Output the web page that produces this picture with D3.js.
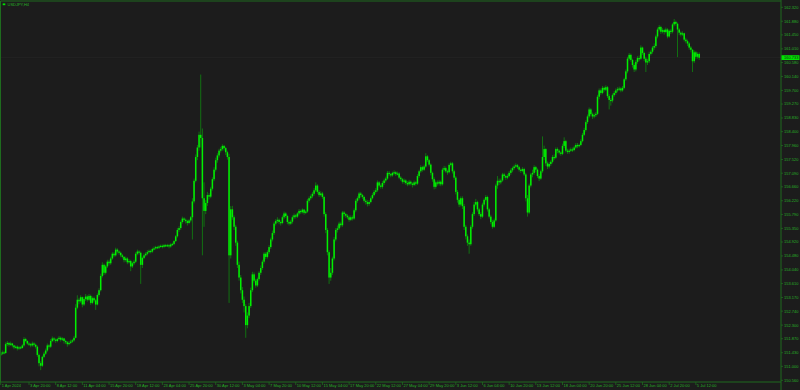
<!DOCTYPE html>
<html>
<head>
<meta charset="utf-8">
<script src="https://cdn.jsdelivr.net/npm/d3@7"></script>
<style>
  html, body { margin: 0; padding: 0; background: #1c1c1c; }
  svg { display: block; }
</style>
</head>
<body>
<div id="chart"></div>
<script>
// USDJPY H4, 1 Apr 2024 - 5 Jul 2024, one value per bar
const symbol = "USDJPY,H4";
const firstOpen = 151.35;
const closes = [
  151.40,151.44,151.42,151.70,151.74,151.68,151.72,151.66,151.60,151.62,
  151.56,151.60,151.58,151.66,151.86,151.80,151.72,151.70,151.66,151.72,
  151.68,151.62,151.36,151.10,151.02,151.30,151.40,151.50,151.66,151.62,
  151.80,151.88,151.84,151.80,151.86,151.90,151.84,151.88,151.80,151.76,
  151.70,151.74,151.78,151.82,151.90,152.85,153.10,153.05,153.18,152.95,
  153.12,153.20,153.10,153.22,153.00,153.15,153.08,152.95,153.25,153.40,
  153.85,154.20,153.95,154.15,154.30,154.25,154.40,154.55,154.50,154.68,
  154.62,154.58,154.50,154.45,154.35,154.40,154.28,154.32,154.15,154.25,
  154.30,154.55,154.62,154.58,154.20,154.42,154.50,154.55,154.60,154.64,
  154.62,154.70,154.72,154.76,154.74,154.78,154.80,154.77,154.82,154.80,
  154.82,154.78,154.84,154.86,154.95,155.10,155.30,155.36,155.55,155.66,
  155.62,155.58,155.52,155.60,155.70,156.20,156.85,157.60,157.90,158.30,
  158.20,156.30,155.90,156.15,156.40,156.35,156.60,156.90,157.20,157.50,
  157.65,157.80,157.85,157.95,157.88,157.75,157.60,154.50,155.95,155.70,
  155.40,154.90,154.20,153.80,153.40,153.10,152.90,152.30,152.60,152.90,
  153.40,153.90,153.70,153.55,153.75,153.95,154.10,154.30,154.55,154.45,
  154.60,154.76,155.00,155.20,155.50,155.58,155.62,155.55,155.52,155.70,
  155.82,155.74,155.55,155.50,155.56,155.70,155.76,155.72,155.82,155.90,
  155.86,155.94,155.84,155.88,156.22,156.30,156.36,156.44,156.55,156.70,
  156.50,156.40,156.45,156.34,155.80,155.30,154.60,153.80,153.95,154.40,
  155.00,155.30,155.35,155.50,155.45,155.85,155.80,155.75,155.70,155.62,
  155.70,155.66,155.92,156.22,156.30,156.45,156.40,156.34,156.22,156.18,
  156.12,156.18,156.30,156.40,156.50,156.55,156.80,156.70,156.66,156.78,
  156.86,156.92,157.10,157.06,157.02,157.10,157.12,157.06,157.08,156.95,
  156.90,156.82,156.86,156.78,156.74,156.82,156.76,156.72,156.80,156.76,
  157.00,157.15,157.28,157.20,157.30,157.62,157.50,157.36,157.10,156.90,
  156.66,156.80,156.76,156.82,156.74,157.20,157.25,157.15,157.12,157.35,
  157.40,157.15,156.95,156.50,156.25,156.10,156.30,156.05,155.40,155.10,
  154.90,154.85,155.40,155.80,156.10,156.18,155.95,155.80,155.72,156.10,
  156.25,156.34,155.95,155.72,155.55,155.40,155.60,156.70,156.85,156.80,
  156.86,157.05,157.00,156.95,157.00,157.10,157.18,157.25,157.30,157.34,
  157.28,157.20,157.16,157.22,157.05,156.30,155.85,156.70,157.05,157.10,
  157.28,157.20,157.00,156.92,157.15,157.60,157.85,157.40,157.30,157.38,
  157.45,157.60,157.58,157.85,157.80,157.74,157.70,157.95,158.10,157.80,
  157.76,157.80,157.84,157.82,157.90,157.98,157.94,157.98,158.10,158.30,
  158.45,158.70,158.88,159.10,158.95,158.88,158.92,158.96,159.50,159.70,
  159.62,159.78,159.72,159.80,159.52,159.40,159.38,159.55,159.62,159.70,
  159.74,159.76,159.70,159.78,160.05,160.30,160.70,160.82,160.66,160.50,
  160.36,160.60,160.72,160.70,161.05,160.88,160.70,160.58,160.62,160.85,
  160.92,161.05,161.10,161.40,161.62,161.70,161.55,161.60,161.54,161.62,
  161.40,161.58,161.55,161.78,161.86,161.80,161.62,161.52,161.46,161.50,
  161.30,161.25,161.18,161.05,160.98,160.62,160.90,160.76,160.85,160.73
];
const highs = [
  151.46,151.50,151.48,151.76,151.80,151.76,151.78,151.74,151.68,151.66,
  151.66,151.64,151.64,151.70,151.92,151.90,151.82,151.76,151.74,151.78,
  151.76,151.72,151.66,151.40,151.16,151.34,151.46,151.56,151.72,151.70,
  151.86,151.94,151.92,151.88,151.90,151.96,151.94,151.92,151.90,151.84,
  151.80,151.80,151.84,151.86,151.96,152.96,153.24,153.16,153.24,153.20,
  153.18,153.28,153.24,153.28,153.26,153.20,153.20,153.12,153.30,153.46,
  153.92,154.28,154.24,154.20,154.36,154.36,154.46,154.60,154.60,154.74,
  154.72,154.66,154.62,154.54,154.48,154.46,154.44,154.38,154.36,154.30,
  154.36,154.60,154.68,154.66,154.62,154.46,154.56,154.60,154.66,154.68,
  154.68,154.74,154.78,154.80,154.80,154.82,154.84,154.84,154.86,154.86,
  154.86,154.86,154.88,154.90,154.98,155.14,155.36,155.42,155.60,155.72,
  155.70,155.66,155.62,155.64,155.74,156.30,156.92,157.68,157.98,158.40,
  160.20,158.50,156.80,156.24,156.50,156.46,156.66,156.96,157.28,157.58,
  157.72,157.86,157.92,158.00,157.98,157.92,157.80,157.70,156.05,156.06,
  155.76,155.46,154.96,154.30,153.88,153.50,153.20,152.96,152.70,153.00,
  153.48,153.98,153.96,153.76,153.80,154.00,154.18,154.36,154.60,154.60,
  154.66,154.82,155.06,155.28,155.56,155.64,155.70,155.66,155.60,155.76,
  155.88,155.86,155.78,155.60,155.62,155.76,155.82,155.80,155.86,155.96,
  155.94,155.98,155.96,155.92,156.28,156.36,156.42,156.50,156.62,156.80,
  156.74,156.56,156.52,156.50,156.38,155.86,155.36,154.66,154.10,154.46,
  155.08,155.36,155.44,155.56,155.56,155.90,155.90,155.84,155.80,155.76,
  155.76,155.76,155.98,156.28,156.36,156.50,156.50,156.44,156.38,156.28,
  156.24,156.24,156.36,156.46,156.56,156.62,156.86,156.84,156.76,156.84,
  156.92,156.98,157.16,157.16,157.10,157.14,157.18,157.16,157.14,157.12,
  157.00,156.94,156.92,156.90,156.84,156.88,156.86,156.80,156.86,156.84,
  157.06,157.20,157.34,157.32,157.36,157.72,157.66,157.54,157.40,157.14,
  156.96,156.86,156.86,156.88,156.86,157.26,157.32,157.30,157.20,157.40,
  157.45,157.44,157.20,157.00,156.56,156.30,156.36,156.36,156.12,155.46,
  155.16,155.00,155.46,155.86,156.18,156.28,156.22,156.00,155.86,156.16,
  156.30,156.40,156.38,156.00,155.78,155.62,155.66,156.76,157.00,156.92,
  156.92,157.10,157.10,157.04,157.06,157.16,157.24,157.30,157.36,157.40,
  157.38,157.32,157.24,157.28,157.26,157.10,156.40,156.76,157.10,157.20,
  157.34,157.32,157.24,157.06,157.20,158.25,157.96,157.88,157.46,157.44,
  157.50,157.66,157.68,157.90,157.90,157.84,157.78,158.02,158.22,158.14,
  157.86,157.86,157.90,157.90,157.96,158.04,158.04,158.02,158.16,158.36,
  158.52,158.76,158.94,159.16,159.14,159.00,158.98,159.02,159.56,159.76,
  159.76,159.84,159.82,159.86,159.84,159.58,159.46,159.60,159.68,159.76,
  159.80,159.82,159.80,159.84,160.10,160.36,160.76,160.88,160.86,160.70,
  160.56,160.66,160.78,160.80,161.12,161.08,160.92,160.76,160.70,160.92,
  160.98,161.10,161.18,161.46,161.68,161.76,161.74,161.66,161.64,161.68,
  161.66,161.62,161.64,161.82,161.95,161.90,161.84,161.66,161.56,161.56,
  161.52,161.36,161.30,161.22,161.10,161.00,160.96,160.94,160.90,160.90
];
const lows = [
  151.32,151.36,151.38,151.40,151.64,151.62,151.64,151.60,151.54,151.56,
  151.50,151.52,151.54,151.56,151.62,151.76,151.68,151.64,151.60,151.62,
  151.62,151.56,151.30,151.00,150.88,150.98,151.26,151.36,151.46,151.56,
  151.58,151.76,151.78,151.74,151.76,151.82,151.78,151.80,151.72,151.70,
  151.62,151.66,151.70,151.74,151.78,151.88,152.80,152.96,153.00,152.86,
  152.90,153.06,153.04,153.06,152.94,152.96,153.02,152.78,152.92,153.20,
  153.36,153.80,153.88,153.90,154.10,154.18,154.20,154.36,154.44,154.46,
  154.56,154.52,154.44,154.40,154.28,154.30,154.22,154.24,154.00,154.10,
  154.20,154.26,154.50,154.52,153.60,154.10,154.38,154.46,154.50,154.56,
  154.56,154.58,154.66,154.68,154.70,154.70,154.74,154.72,154.74,154.76,
  154.76,154.72,154.74,154.80,154.82,154.92,155.06,155.24,155.30,155.50,
  155.56,155.50,155.44,155.48,155.54,155.00,156.14,156.80,157.50,157.80,
  157.90,154.50,155.40,155.80,156.06,156.26,156.30,156.54,156.84,157.14,
  157.42,157.58,157.74,157.80,157.80,157.66,157.52,153.00,154.40,155.62,
  155.30,154.80,154.10,153.70,153.30,153.00,152.70,151.90,152.20,152.52,
  152.84,153.34,153.64,153.48,153.50,153.70,153.88,154.04,154.24,154.38,
  154.40,154.54,154.70,154.94,155.14,155.44,155.52,155.48,155.44,155.48,
  155.64,155.68,155.48,155.44,155.46,155.50,155.64,155.66,155.68,155.76,
  155.80,155.82,155.78,155.80,155.84,156.16,156.24,156.30,156.38,156.50,
  156.44,156.34,156.36,156.28,155.72,155.20,154.50,153.60,153.70,153.88,
  154.34,154.94,155.22,155.30,155.38,155.40,155.72,155.68,155.64,155.56,
  155.58,155.60,155.62,155.86,156.16,156.24,156.32,156.28,156.16,156.10,
  156.04,156.06,156.14,156.26,156.36,156.44,156.50,156.64,156.60,156.60,
  156.72,156.80,156.88,157.00,156.96,156.98,157.04,157.00,157.02,156.90,
  156.84,156.76,156.76,156.72,156.68,156.70,156.70,156.64,156.68,156.70,
  156.72,156.94,157.10,157.14,157.16,157.26,157.44,157.30,157.02,156.82,
  156.58,156.60,156.70,156.70,156.68,156.70,157.14,157.10,157.04,157.08,
  157.30,157.08,156.88,156.42,156.16,156.02,156.04,155.96,155.30,155.00,
  154.80,154.55,154.80,155.34,155.74,156.04,155.88,155.74,155.64,155.68,
  156.04,156.20,155.88,155.66,155.48,155.34,155.36,155.56,156.60,156.72,
  156.74,156.82,156.94,156.88,156.90,156.96,157.04,157.12,157.20,157.26,
  157.22,157.14,157.10,157.12,157.00,156.20,155.72,155.80,156.64,156.96,
  157.04,157.12,156.94,156.84,156.88,157.10,157.50,157.32,157.22,157.24,
  157.32,157.40,157.50,157.54,157.72,157.68,157.64,157.66,157.88,157.74,
  157.70,157.70,157.76,157.76,157.78,157.86,157.88,157.90,157.94,158.06,
  158.26,158.40,158.64,158.82,158.88,158.80,158.82,158.86,158.92,159.42,
  159.56,159.58,159.66,159.68,159.46,159.10,159.22,159.32,159.50,159.56,
  159.64,159.68,159.64,159.66,159.74,160.00,160.24,160.64,160.60,160.42,
  160.28,160.30,160.54,160.62,160.66,160.82,160.62,160.28,160.50,160.56,
  160.80,160.86,160.98,161.04,161.34,161.56,161.48,161.50,161.46,161.50,
  161.34,161.36,161.48,161.50,161.72,161.74,160.75,161.44,161.40,161.42,
  161.24,161.18,161.10,160.98,160.90,160.28,160.56,160.68,160.70,160.66
];
const priceTicks = [
  "162.320","161.880","161.450","161.010","160.580","160.140","159.700",
  "159.270","158.830","158.400","157.960","157.520","157.090","156.660",
  "156.220","155.790","155.350","154.920","154.480","154.040","153.610",
  "153.170","152.740","152.300","151.870","151.430","151.000","150.560"
];
const timeTickBars = [0,17,33,49,65,81,97,113,129,145,161,177,193,209,225,241,257,273,289,305,321,337,353,369,385,401,417];
const timeTicks = [
  "1 Apr 2024","3 Apr 20:00","8 Apr 12:00","11 Apr 04:00","15 Apr 20:00","18 Apr 12:00",
  "23 Apr 04:00","25 Apr 20:00","30 Apr 12:00","3 May 04:00","7 May 20:00","10 May 12:00",
  "15 May 04:00","17 May 20:00","22 May 12:00","27 May 04:00","29 May 20:00","3 Jun 12:00",
  "6 Jun 04:00","10 Jun 20:00","13 Jun 12:00","18 Jun 04:00","20 Jun 20:00","25 Jun 12:00",
  "28 Jun 04:00","2 Jul 20:00","5 Jul 12:00"
];
const lastPrice = "160.733";

var w = 800, h = 390;
var plot = {left: 1, top: 1, right: 781, bottom: 382};
var frameColor = "#1e6b1e", textColor = "#26b026", candleColor = "#00f000";

var bars = closes.map((c, i) => ({
  i: i,
  open: i > 0 ? closes[i - 1] : firstOpen,
  close: c,
  high: highs[i],
  low: lows[i]
}));

var svg = d3.select("#chart").append("svg")
  .attr("width", w)
  .attr("height", h)
  .style("font-family", "'Liberation Sans', Arial, sans-serif");

svg.append("rect").attr("width", w).attr("height", h).attr("fill", "#1c1c1c");

var x = d3.scaleLinear().domain([0, 419]).range([0.67, 699.2]);
var y = d3.scaleLinear()
  .domain([+priceTicks[priceTicks.length - 1], +priceTicks[0]])
  .range([380.3, 7.3]);

// bid line, barely visible
svg.append("line")
  .attr("x1", plot.left).attr("x2", plot.right)
  .attr("y1", y(+lastPrice)).attr("y2", y(+lastPrice))
  .attr("stroke", "#272727").attr("stroke-width", 0.6);

// candles
var g = svg.append("g");
g.selectAll("line.wick")
  .data(bars)
  .enter().append("line")
  .attr("class", "wick")
  .attr("x1", d => x(d.i)).attr("x2", d => x(d.i))
  .attr("y1", d => y(d.high)).attr("y2", d => y(d.low))
  .attr("stroke", candleColor)
  .attr("stroke-opacity", 0.5)
  .attr("stroke-width", 0.8);

g.selectAll("rect.body")
  .data(bars)
  .enter().append("rect")
  .attr("class", "body")
  .attr("x", d => x(d.i) - 0.75)
  .attr("width", 1.5)
  .attr("y", d => y(Math.max(d.open, d.close)))
  .attr("height", d => Math.max(1.2, Math.abs(y(d.open) - y(d.close))))
  .attr("fill", candleColor);

// frame
svg.append("path")
  .attr("d", "M0.5," + plot.bottom + "V" + plot.top + "H" + plot.right)
  .attr("fill", "none").attr("stroke", frameColor).attr("stroke-width", 1);
svg.append("line")
  .attr("x1", 0).attr("x2", plot.right).attr("y1", plot.bottom).attr("y2", plot.bottom)
  .attr("stroke", frameColor).attr("stroke-width", 1);
svg.append("line")
  .attr("x1", plot.right).attr("x2", plot.right).attr("y1", 0).attr("y2", h)
  .attr("stroke", frameColor).attr("stroke-width", 1);

// price axis
var yAxis = svg.append("g").selectAll("g")
  .data(priceTicks)
  .enter().append("g")
  .attr("transform", d => "translate(" + plot.right + "," + y(+d) + ")");
yAxis.append("line").attr("x1", 0).attr("x2", 2)
  .attr("stroke", frameColor).attr("stroke-width", 0.8);
yAxis.append("text")
  .attr("x", 3).attr("dy", "0.35em")
  .attr("font-size", 4).attr("fill", textColor)
  .text(d => d);

// last price box
var lp = svg.append("g").attr("transform", "translate(" + plot.right + "," + y(+lastPrice) + ")");
lp.append("rect").attr("x", 0.5).attr("y", -2.4).attr("width", 18).attr("height", 4.8).attr("fill", "#00e600");
lp.append("text").attr("x", 3).attr("dy", "0.35em")
  .attr("font-size", 4).attr("fill", "#1c1c1c").text(lastPrice);

// time axis
var xAxis = svg.append("g").selectAll("g")
  .data(timeTicks)
  .enter().append("g")
  .attr("transform", (d, k) => "translate(" + x(timeTickBars[k]) + "," + plot.bottom + ")");
xAxis.append("line").attr("y1", 0).attr("y2", 3)
  .attr("stroke", frameColor).attr("stroke-width", 0.8);
xAxis.append("text")
  .attr("x", 1).attr("y", 5.3)
  .attr("font-size", 4).attr("fill", textColor)
  .text(d => d);

// symbol label
svg.append("rect").attr("x", 2.7).attr("y", 3.4).attr("width", 2.6).attr("height", 1.8).attr("fill", "#00e000");
svg.append("text")
  .attr("x", 7.5).attr("y", 5.8)
  .attr("font-size", 4).attr("fill", textColor)
  .text(symbol);
</script>
</body>
</html>
